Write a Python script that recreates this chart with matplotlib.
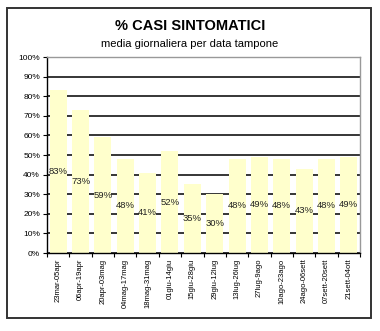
import matplotlib.pyplot as plt
from matplotlib.patches import Rectangle
import numpy as np

plt.rcParams['font.family'] = ['Liberation Sans', 'DejaVu Sans']

periods = ["23mar-05apr", "06apr-19apr", "20apr-03mag", "04mag-17mag",
           "18mag-31mag", "01giu-14giu", "15giu-28giu", "29giu-12lug",
           "13lug-26lug", "27lug-9ago", "10ago-23ago", "24ago-06sett",
           "07sett-20sett", "21sett-04ott"]
pct_sintomatici = [83, 73, 59, 48, 41, 52, 35, 30, 48, 49, 48, 43, 48, 49]
yticks = list(range(0, 101, 10))

fig = plt.figure(figsize=(3.8, 3.31), dpi=100)
fig.patch.set_facecolor('white')

# outer chart frame
fig.add_artist(Rectangle((7 / 380, 13 / 331), 364 / 380, 310 / 331,
                         transform=fig.transFigure, fill=False,
                         edgecolor='#333333', linewidth=1.4))

fig.text(0.5, 1 - 26 / 331, "% CASI SINTOMATICI", ha='center', va='center',
         fontsize=10.5, fontweight='bold')
fig.text(0.5, 1 - 44 / 331, "media giornaliera per data tampone",
         ha='center', va='center', fontsize=8)

ax = fig.add_axes([47 / 380, 78 / 331, 313 / 380, 196 / 331])
x = np.arange(len(periods))
ax.set_axisbelow(True)
ax.yaxis.grid(True, color='black', linewidth=1.1)
ax.bar(x, pct_sintomatici, width=0.76, color='#FFFFCC', zorder=2)
for xi, v in zip(x, pct_sintomatici):
    ax.text(xi, v / 2, f"{v}%", ha='center', va='center', fontsize=6.8,
            color='#222222', zorder=3)

ax.set_xlim(-0.5, len(periods) - 0.5)
ax.set_ylim(0, 100)
ax.set_yticks(yticks)
ax.set_yticklabels([f"{t}%" for t in yticks], fontsize=6)
ax.set_xticks(x)
ax.set_xticklabels(periods, rotation=90, fontsize=5.5)
ax.tick_params(axis='x', length=0, pad=4)
ax.tick_params(axis='y', length=3, width=0.8, pad=2)
ax.set_xticks(np.arange(-0.5, len(periods), 1), minor=True)
ax.tick_params(axis='x', which='minor', length=3, width=0.8)

for side in ('left', 'bottom'):
    ax.spines[side].set_color('black')
    ax.spines[side].set_linewidth(1.0)
for side in ('top', 'right'):
    ax.spines[side].set_color('#999999')
    ax.spines[side].set_linewidth(1.0)

fig.savefig('out.png', dpi=100)
